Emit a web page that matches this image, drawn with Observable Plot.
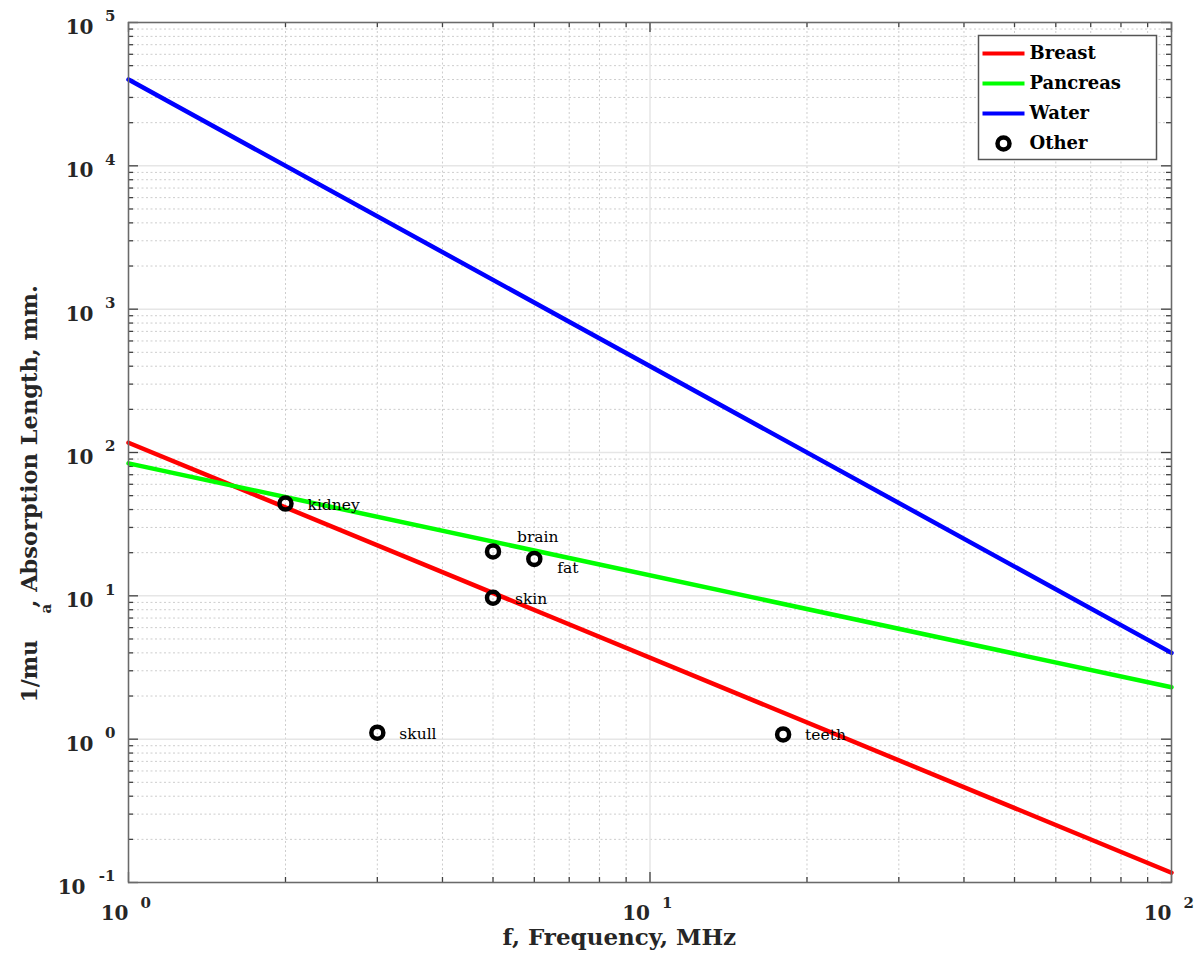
<!DOCTYPE html>
<html>
<head>
<meta charset="utf-8">
<script src="https://cdn.jsdelivr.net/npm/d3@7"></script>
<script src="https://cdn.jsdelivr.net/npm/@observablehq/plot@0.6"></script>
<style>
  html, body { margin: 0; padding: 0; background: #fff; }
</style>
</head>
<body>
<div id="chart"></div>
<script>
// ---- data ----
const lineFreq = [1, 100];                 // MHz, line endpoints
const breast   = [117, 0.117];             // mm
const pancreas = [84, 2.3];
const water    = [40000, 4.0];

const otherNames = ["kidney", "brain", "fat", "skin", "skull", "teeth"];
const otherFreq  = [2, 5, 6, 5, 3, 18];
const otherLen   = [44, 20.4, 18.1, 9.7, 1.11, 1.08];

const seriesNames  = ["Breast", "Pancreas", "Water"];
const seriesColors = ["#ff0000", "#00ff00", "#0000ff"];

const xTickExp = [0, 1, 2];
const yTickExp = [-1, 0, 1, 2, 3, 4, 5];

// ---- derived tables ----
const seriesVals = [breast, pancreas, water];
const lines = seriesNames.flatMap((name, i) =>
  lineFreq.map((f, j) => ({name, f, v: seriesVals[i][j]})));
const others = otherNames.map((name, i) => ({name, f: otherFreq[i], v: otherLen[i]}));

const xMajor = xTickExp.map(e => 10 ** e);
const yMajor = yTickExp.map(e => 10 ** e);
const minorOf = exps => exps.slice(0, -1).flatMap(e => d3.range(2, 10).map(k => k * 10 ** e));
const xMinor = minorOf(xTickExp);
const yMinor = minorOf(yTickExp);

const W = 1196, H = 967;
const mL = 128, mR = 25, mT = 22, mB = 85;
const pw = W - mL - mR, ph = H - mT - mB;

const FONT = "DejaVu Serif";
const tickCol = "#404040";
const gridMinor = {stroke: "#cdcdcd", strokeWidth: 1, strokeDasharray: "2,2.5"};
const gridMajor = {stroke: "#e6e6e6", strokeWidth: 1.5};

// legend geometry relative to frame
const legL = 978 - mL, legR = (mL + pw) - 1156, legT = 35 - mT, legB = (mT + ph) - 159;
const legRowY = [53, 83, 113, 143].map(v => v - mT);

const legendMarks = [
  Plot.frame({fill: "white", stroke: "#555", strokeWidth: 1.5,
    insetLeft: legL, insetRight: legR, insetTop: legT, insetBottom: legB}),
  ...seriesNames.map((name, i) => Plot.frame({
    fill: seriesColors[i], stroke: "none",
    insetLeft: 982 - mL, insetRight: (mL + pw) - 1024,
    insetTop: legRowY[i] - 2, insetBottom: ph - legRowY[i] - 2
  })),
  Plot.dot([{}], {frameAnchor: "top-left", dx: 1003 - mL, dy: legRowY[3],
    r: 6, stroke: "black", strokeWidth: 4.5, fill: "none"}),
  ...[...seriesNames, "Other"].map((name, i) => Plot.text([name], {
    frameAnchor: "top-left", dx: 1029 - mL, dy: legRowY[i], text: d => d,
    textAnchor: "start", lineAnchor: "middle", fontWeight: "bold", fontSize: 18,
    fontFamily: FONT, fill: "black"
  }))
];

const sup = e => String(e);

const chart = Plot.plot({
  width: W, height: H,
  marginLeft: mL, marginRight: mR, marginTop: mT, marginBottom: mB,
  style: {fontFamily: FONT, background: "white", overflow: "visible"},
  x: {type: "log", domain: [1, 100], axis: null},
  y: {type: "log", domain: [0.1, 1e5], axis: null},
  marks: [
    // grid
    Plot.ruleY(yMinor, {...gridMinor}),
    Plot.ruleX(xMinor, {...gridMinor}),
    Plot.ruleY(yMajor, {...gridMajor}),
    Plot.ruleX(xMajor, {...gridMajor}),
    // ticks (inward, all four sides)
    Plot.tickY(yMinor, {y: d => d, insetRight: pw - 5, stroke: tickCol, strokeWidth: 1.3}),
    Plot.tickY(yMinor, {y: d => d, insetLeft: pw - 5, stroke: tickCol, strokeWidth: 1.3}),
    Plot.tickY(yMajor, {y: d => d, insetRight: pw - 10, stroke: tickCol, strokeWidth: 1.3}),
    Plot.tickY(yMajor, {y: d => d, insetLeft: pw - 10, stroke: tickCol, strokeWidth: 1.3}),
    Plot.tickX(xMinor, {x: d => d, insetTop: ph - 5, stroke: tickCol, strokeWidth: 1.3}),
    Plot.tickX(xMinor, {x: d => d, insetBottom: ph - 5, stroke: tickCol, strokeWidth: 1.3}),
    Plot.tickX(xMajor, {x: d => d, insetTop: ph - 10, stroke: tickCol, strokeWidth: 1.3}),
    Plot.tickX(xMajor, {x: d => d, insetBottom: ph - 10, stroke: tickCol, strokeWidth: 1.3}),
    // series lines
    Plot.line(lines, {x: "f", y: "v", z: "name",
      stroke: d => seriesColors[seriesNames.indexOf(d.name)], strokeWidth: 4.5}),
    // other tissues
    Plot.dot(others, {x: "f", y: "v", r: 6, stroke: "black", strokeWidth: 4.5, fill: "none"}),
    Plot.text(others.filter(d => d.name !== "brain" && d.name !== "fat"),
      {x: "f", y: "v", text: "name", dx: 22, dy: 1, textAnchor: "start", lineAnchor: "middle",
       fontSize: 15.5, fill: "black"}),
    Plot.text(others.filter(d => d.name === "brain"),
      {x: "f", y: "v", text: "name", dx: 24, dy: -14, textAnchor: "start", lineAnchor: "middle",
       fontSize: 15.5, fill: "black"}),
    Plot.text(others.filter(d => d.name === "fat"),
      {x: "f", y: "v", text: "name", dx: 23, dy: 9, textAnchor: "start", lineAnchor: "middle",
       fontSize: 15.5, fill: "black"}),
    // axes box
    Plot.frame({stroke: "#6a6a6a", strokeWidth: 1.5}),
    // y tick labels
    Plot.text(yTickExp.filter(e => e >= 0), {y: e => 10 ** e, frameAnchor: "left", text: () => "10",
      dx: -35, dy: 5, textAnchor: "end", lineAnchor: "middle", fontWeight: "bold", fontSize: 20, fill: "#262626"}),
    Plot.text(yTickExp.filter(e => e < 0), {y: e => 10 ** e, frameAnchor: "left", text: () => "10",
      dx: -43, dy: 5, textAnchor: "end", lineAnchor: "middle", fontWeight: "bold", fontSize: 20, fill: "#262626"}),
    Plot.text(yTickExp, {y: e => 10 ** e, frameAnchor: "left", text: sup,
      dx: -13, dy: -6, textAnchor: "end", lineAnchor: "middle", fontWeight: "bold", fontSize: 15, fill: "#262626"}),
    // x tick labels
    Plot.text(xTickExp, {x: e => 10 ** e, frameAnchor: "bottom", text: () => "10",
      dx: 0, dy: 31, textAnchor: "end", lineAnchor: "middle", fontWeight: "bold", fontSize: 20, fill: "#262626"}),
    Plot.text(xTickExp, {x: e => 10 ** e, frameAnchor: "bottom", text: sup,
      dx: 12, dy: 21, textAnchor: "start", lineAnchor: "middle", fontWeight: "bold", fontSize: 15, fill: "#262626"}),
    // axis titles
    Plot.text(["f, Frequency, MHz"], {frameAnchor: "bottom-left", text: d => d,
      dx: 502 - mL, dy: 944 - (mT + ph), textAnchor: "start", lineAnchor: "bottom",
      fontWeight: "bold", fontSize: 23, fill: "#262626"}),
    Plot.text(["1/mu"], {frameAnchor: "top-left", text: d => d, rotate: -90,
      dx: 36 - mL, dy: 702 - mT, textAnchor: "start", lineAnchor: "bottom",
      fontWeight: "bold", fontSize: 22, fill: "#262626"}),
    Plot.text(["a"], {frameAnchor: "top-left", text: d => d, rotate: -90,
      dx: 50 - mL, dy: 613 - mT, textAnchor: "start", lineAnchor: "bottom",
      fontWeight: "bold", fontSize: 15, fill: "#262626"}),
    Plot.text([", Absorption Length, mm."], {frameAnchor: "top-left", text: d => d, rotate: -90,
      dx: 36 - mL, dy: 607 - mT, textAnchor: "start", lineAnchor: "bottom",
      fontWeight: "bold", fontSize: 22.5, fill: "#262626"}),
    // legend
    ...legendMarks
  ]
});

document.getElementById("chart").append(chart);
</script>
</body>
</html>
